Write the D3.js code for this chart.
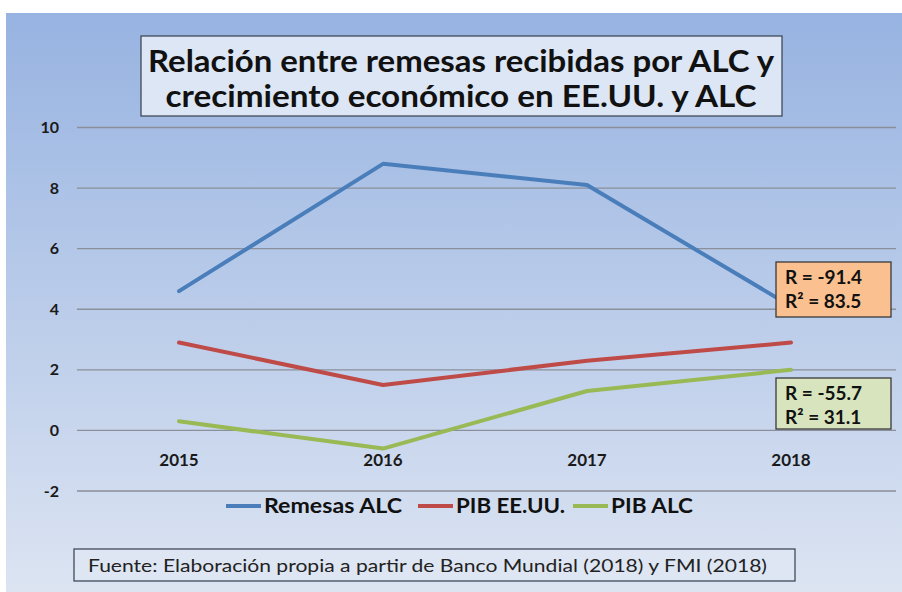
<!DOCTYPE html>
<html lang="es">
<head>
<meta charset="utf-8">
<script src="https://d3js.org/d3.v7.min.js"></script>
<style>
	body { margin: 0; background: #fff; }
	svg { display: block; font-family: Lato, "Open Sans", sans-serif; }
</style>
</head>
<body>
<script>
var width = 902, height = 592;

var years = ["2015", "2016", "2017", "2018"];
var yTicks = [-2, 0, 2, 4, 6, 8, 10];
var seriesNames = ["Remesas ALC", "PIB EE.UU.", "PIB ALC"];
var seriesColors = ["#4a7ebb", "#be4b48", "#98b954"];
var remesas = [4.6, 8.8, 8.1, 4.1];
var pibEEUU = [2.9, 1.5, 2.3, 2.9];
var pibALC = [0.3, -0.6, 1.3, 2.0];
var titleLines = ["Relación entre remesas recibidas por ALC y", "crecimiento económico en EE.UU. y ALC"];
var boxRemesas = ["R = -91.4", "R² = 83.5"];
var boxALC = ["R = -55.7", "R² = 31.1"];
var fuente = "Fuente: Elaboración propia a partir de Banco Mundial (2018) y FMI (2018)";

var series = [remesas, pibEEUU, pibALC];

var svg = d3.select("body").append("svg")
	.attr("width", width)
	.attr("height", height);

// background gradient
var grad = svg.append("defs").append("linearGradient")
	.attr("id", "bg").attr("x1", 0).attr("y1", 0).attr("x2", 0).attr("y2", 1);
grad.append("stop").attr("offset", "0%").attr("stop-color", "#97b3e1");
grad.append("stop").attr("offset", "100%").attr("stop-color", "#dce4f2");

svg.append("rect")
	.attr("x", 6).attr("y", 13)
	.attr("width", width - 6).attr("height", height - 13)
	.attr("fill", "url(#bg)");

var x = d3.scaleBand().domain(years).range([77, 893]);
var y = d3.scaleLinear().domain([-2, 10]).range([491, 127.5]);

// gridlines
svg.append("g").selectAll("line")
	.data(yTicks)
	.enter().append("line")
	.attr("x1", 77).attr("x2", 896)
	.attr("y1", function(d) { return y(d); })
	.attr("y2", function(d) { return y(d); })
	.attr("stroke", "#8a8f99")
	.attr("stroke-width", 1.3);

// y labels
svg.append("g").selectAll("text")
	.data(yTicks)
	.enter().append("text")
	.attr("x", 59)
	.attr("y", function(d) { return y(d); })
	.attr("dy", "0.35em")
	.attr("text-anchor", "end")
	.attr("font-size", 16)
	.attr("font-weight", "bold")
	.attr("fill", "#1a1a1a")
	.text(function(d) { return d; });

// x labels (below the zero line)
svg.append("g").selectAll("text")
	.data(years)
	.enter().append("text")
	.attr("x", function(d) { return x(d) + x.bandwidth() / 2; })
	.attr("y", y(0) + 36)
	.attr("text-anchor", "middle")
	.attr("font-size", 17)
	.attr("font-weight", "bold")
	.attr("fill", "#1a1a1a")
	.text(function(d) { return d; });

var line = d3.line()
	.x(function(d, i) { return x(years[i]) + x.bandwidth() / 2; })
	.y(function(d) { return y(d); });

svg.append("g").selectAll("path")
	.data(series)
	.enter().append("path")
	.attr("d", line)
	.attr("fill", "none")
	.attr("stroke", function(d, i) { return seriesColors[i]; })
	.attr("stroke-width", 4)
	.attr("stroke-linejoin", "round")
	.attr("stroke-linecap", "round");

// title box
svg.append("rect")
	.attr("x", 141).attr("y", 36).attr("width", 641).attr("height", 80)
	.attr("fill", "#dce6f4").attr("stroke", "#404a5a").attr("stroke-width", 1.3);
var titleLen = [626, 591];
svg.append("g").selectAll("text")
	.data(titleLines)
	.enter().append("text")
	.attr("x", 461)
	.attr("y", function(d, i) { return 72 + i * 35; })
	.attr("text-anchor", "middle")
	.attr("font-size", 30)
	.attr("font-weight", "bold")
	.attr("fill", "#111")
	.attr("textLength", function(d, i) { return titleLen[i]; })
	.attr("lengthAdjust", "spacingAndGlyphs")
	.text(function(d) { return d; });

// correlation boxes
function corrBox(lines, yTop, h, fill) {
	svg.append("rect")
		.attr("x", 776).attr("y", yTop).attr("width", 115).attr("height", h)
		.attr("fill", fill).attr("stroke", "#3a3a3a").attr("stroke-width", 1.3);
	svg.append("g").selectAll("text")
		.data(lines)
		.enter().append("text")
		.attr("x", 785)
		.attr("y", function(d, i) { return yTop + 22 + i * 24; })
		.attr("font-size", 19)
		.attr("font-weight", "bold")
		.attr("fill", "#111")
		.text(function(d) { return d; });
}
corrBox(boxRemesas, 262, 55, "#fac090");
corrBox(boxALC, 378, 51, "#d7e4bd");

// legend
var legendX = [226, 418, 573];
var legendLen = [138, 109, 82];
var leg = svg.append("g").selectAll("g")
	.data(seriesNames)
	.enter().append("g")
	.attr("transform", function(d, i) { return "translate(" + legendX[i] + ",506)"; });
leg.append("line")
	.attr("x1", 0).attr("x2", 35)
	.attr("stroke", function(d, i) { return seriesColors[i]; })
	.attr("stroke-width", 4);
leg.append("text")
	.attr("x", 38)
	.attr("dy", "0.35em")
	.attr("font-size", 20)
	.attr("font-weight", "bold")
	.attr("fill", "#111")
	.attr("textLength", function(d, i) { return legendLen[i]; })
	.attr("lengthAdjust", "spacingAndGlyphs")
	.text(function(d) { return d; });

// source box
svg.append("rect")
	.attr("x", 74).attr("y", 549).attr("width", 721).attr("height", 32)
	.attr("fill", "#dee6f3").attr("stroke", "#404a5a").attr("stroke-width", 1.3);
svg.append("text")
	.attr("x", 88).attr("y", 572)
	.attr("font-size", 18)
	.attr("fill", "#222")
	.attr("textLength", 679)
	.attr("lengthAdjust", "spacingAndGlyphs")
	.text(fuente);
</script>
</body>
</html>
